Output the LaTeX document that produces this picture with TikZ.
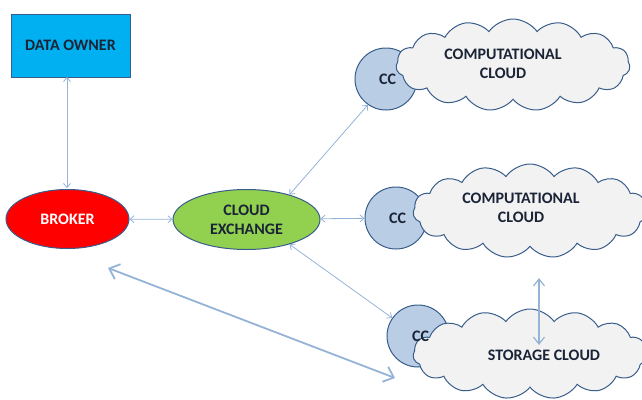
\documentclass[tikz,border=0pt]{standalone}
\usepackage{fontspec}
\setmainfont{Carlito}
\usetikzlibrary{shapes.geometric,shapes.symbols,arrows.meta}
\definecolor{edgeblue}{HTML}{385D8A}
\definecolor{arrowblue}{HTML}{95B3D7}
\definecolor{ccfill}{HTML}{B9CDE5}
\definecolor{cloudfill}{HTML}{F2F2F2}
\definecolor{txtdark}{HTML}{1A2436}
\definecolor{ownerblue}{HTML}{00B0F0}
\definecolor{exgreen}{HTML}{92D050}
\tikzset{
  lbl/.style={font=\bfseries\fontsize{16}{19}\selectfont, text=txtdark, align=center},
  thinarrow/.style={draw=arrowblue, line width=0.8pt, {Straight Barb[length=4pt,width=7pt]}-{Straight Barb[length=4pt,width=7pt]}},
  thickarrow/.style={draw=arrowblue, line width=1.8pt, {Straight Barb[length=9pt,width=16pt]}-{Straight Barb[length=9pt,width=16pt]}},
  ccnode/.style={circle, draw=edgeblue, line width=1pt, fill=ccfill, minimum size=62pt, inner sep=0pt},
  cloudnode/.style={cloud, cloud puffs=15, cloud puff arc=110, aspect=2.6, draw=edgeblue, line width=1pt, fill=cloudfill, inner sep=0pt},
}
\begin{document}
\begin{tikzpicture}[x=1pt,y=-1pt]
\useasboundingbox (0,0) rectangle (642,399);
\clip (0,0) rectangle (642,399);
% data owner
\node[draw=edgeblue, line width=1pt, fill=ownerblue, minimum width=119pt, minimum height=63pt, lbl] (owner) at (70.5,45.5) {DATA OWNER};
% broker
\node[ellipse, draw=edgeblue, line width=1pt, fill=red, minimum width=123pt, minimum height=59pt, lbl, text=white, inner sep=0pt] (broker) at (67.5,219) {BROKER};
% exchange
\node[ellipse, draw=edgeblue, line width=1pt, fill=exgreen, minimum width=147pt, minimum height=60pt, lbl, inner sep=0pt] (exch) at (246.5,219.5) {CLOUD\\EXCHANGE};
% CC circles
\node[ccnode] (cc1) at (386,79) {};
\node[ccnode] (cc2) at (396,218) {};
\node[ccnode] (cc3) at (418,336) {};
% clouds
\node[cloudnode, minimum width=234pt, minimum height=92pt] (cl1) at (513,65) {};
\node[cloudnode, minimum width=234pt, minimum height=94pt] (cl2) at (530,211) {};
\node[cloudnode, minimum width=234pt, minimum height=90pt] (cl3) at (530,354) {};
% labels
\node[lbl, anchor=west, inner sep=0pt] (cct1) at (379,79) {CC};
\node[lbl, anchor=west, inner sep=0pt] (cct2) at (389,218) {CC};
\node[lbl, anchor=west, inner sep=0pt] (cct3) at (412,336) {CC};
\node[lbl] (t1) at (503,64) {COMPUTATIONAL\\CLOUD};
\node[lbl] (t2) at (521,208) {COMPUTATIONAL\\CLOUD};
\node[lbl] (t3) at (544,355) {STORAGE CLOUD};
% arrows
\coordinate (ownb) at (67,77);
\coordinate (brkt) at (67,188);
\draw[thinarrow] (ownb) -- (brkt);
\draw[thinarrow] (broker) -- (exch);
\draw[thinarrow] (exch.30) -- (cc1.235);
\draw[thinarrow] (exch) -- (cc2);
\draw[thinarrow] (exch.-30) -- (cc3.145);
\coordinate (va) at (539,278);
\coordinate (vb) at (539,345);
\draw[thinarrow, line width=1.2pt, {Straight Barb[length=7pt,width=11pt]}-{Straight Barb[length=7pt,width=11pt]}] (va) -- (vb);
\coordinate (la) at (108,268);
\coordinate (lb) at (395,378);
\draw[thickarrow] (la) -- (lb);
\end{tikzpicture}
\end{document}
